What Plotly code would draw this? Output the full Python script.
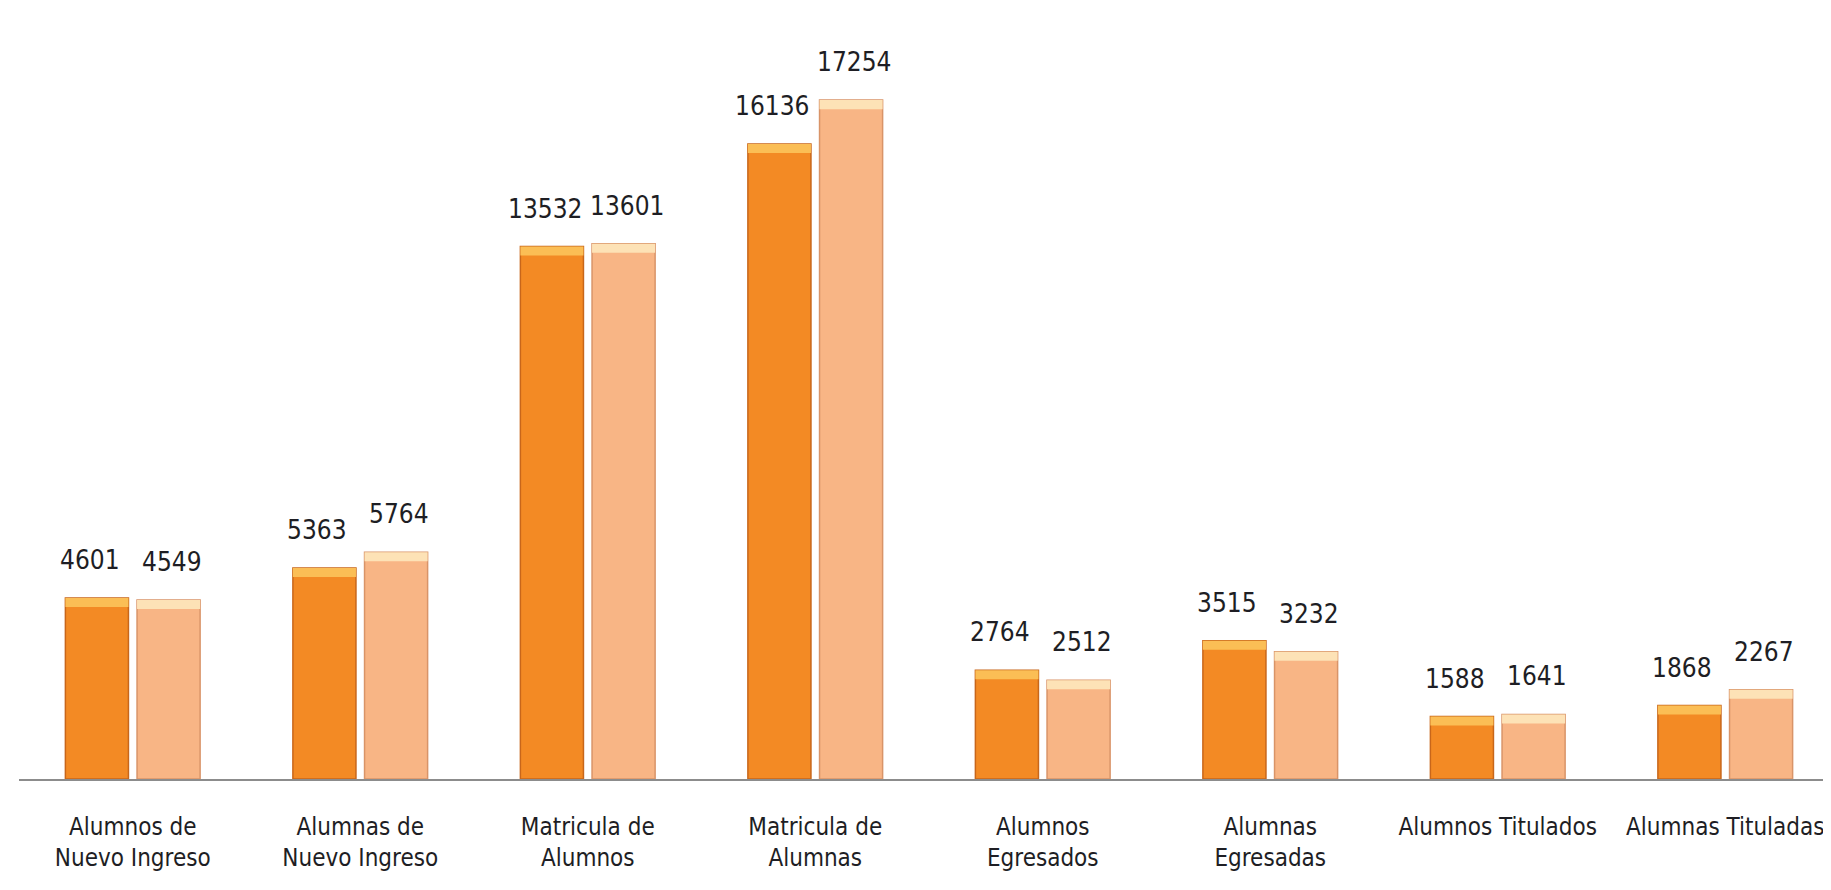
import plotly.graph_objects as go

categories = [
    "Alumnos de<br>Nuevo Ingreso",
    "Alumnas de<br>Nuevo Ingreso",
    "Matricula de<br>Alumnos",
    "Matricula de<br>Alumnas",
    "Alumnos<br>Egresados",
    "Alumnas<br>Egresadas",
    "Alumnos Titulados",
    "Alumnas Tituladas",
]
serie_a = [4601, 5363, 13532, 16136, 2764, 3515, 1588, 1868]
serie_b = [4549, 5764, 13601, 17254, 2512, 3232, 1641, 2267]

FONT = "DejaVu Sans Condensed, sans-serif"
cap = 230  # height of the lighter top strip, in data units

fig = go.Figure()

# main bars
fig.add_trace(go.Bar(x=categories, y=serie_a, offsetgroup="a", name="a",
                     marker=dict(color="#F38A24", line=dict(color="#C8661A", width=1.5))))
fig.add_trace(go.Bar(x=categories, y=serie_b, offsetgroup="b", name="b",
                     marker=dict(color="#F8B585", line=dict(color="#D99468", width=1.5))))

# highlight strip on top of each bar (bevel look)
fig.add_trace(go.Bar(x=categories, y=[cap] * len(serie_a), base=[v - cap for v in serie_a],
                     offsetgroup="a", hoverinfo="skip",
                     marker=dict(color="#FBBE55", line=dict(width=0))))
fig.add_trace(go.Bar(x=categories, y=[cap] * len(serie_b), base=[v - cap for v in serie_b],
                     offsetgroup="b", hoverinfo="skip",
                     marker=dict(color="#FDE2B6", line=dict(width=0))))

# value labels
for vals, dx in [(serie_a, -43), (serie_b, 39)]:
    for c, v in zip(categories, vals):
        fig.add_annotation(x=c, y=v, text=str(v), showarrow=False,
                           xshift=dx, yshift=38, yanchor="middle",
                           font=dict(family=FONT, size=26, color="#1e1e24"))

fig.update_layout(
    width=1831, height=890,
    margin=dict(l=11, r=0, t=0, b=119),
    barmode="group", bargap=0.37, bargroupgap=0.12,
    showlegend=False,
    plot_bgcolor="white", paper_bgcolor="white",
    font=dict(family=FONT, size=24, color="#1e1e24"),
    xaxis=dict(showline=True, linecolor="#8c8c8c", linewidth=2, tickangle=0,
               ticks="", ticklabelstandoff=25, showgrid=False),
    yaxis=dict(range=[0, 19594], visible=False, showgrid=False),
)

fig.write_html("out.html")
